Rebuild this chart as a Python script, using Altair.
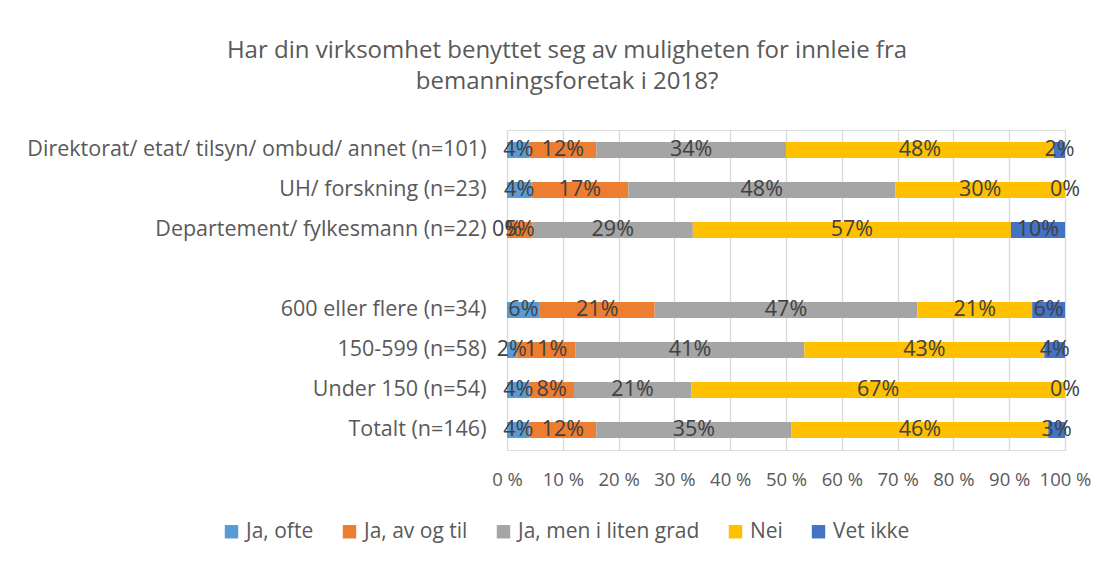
import altair as alt
import pandas as pd

categories = [
    "Direktorat/ etat/ tilsyn/ ombud/ annet (n=101)",
    "UH/ forskning (n=23)",
    "Departement/ fylkesmann (n=22)",
    " ",
    "600 eller flere (n=34)",
    "150-599 (n=58)",
    "Under 150 (n=54)",
    "Totalt (n=146)",
]
data_rows = [c for c in categories if c.strip()]

series = ["Ja, ofte", "Ja, av og til", "Ja, men i liten grad", "Nei", "Vet ikke"]
colors = ["#5B9BD5", "#ED7D31", "#A5A5A5", "#FFC000", "#4472C4"]

ja_ofte = [4, 4.35, 0, 5.88, 1.7, 4, 4]
ja_av_og_til = [12, 17.39, 4.6, 20.59, 10.6, 8, 12]
ja_liten_grad = [34, 47.83, 28.7, 47.06, 41.0, 21, 35]
nei = [48, 30.43, 57.0, 20.59, 43.0, 67, 46]
vet_ikke = [2, 0, 9.7, 5.88, 3.7, 0, 3]

x_ticks = [0, 10, 20, 30, 40, 50, 60, 70, 80, 90, 100]

records = []
for si, (s, vals) in enumerate(zip(series, [ja_ofte, ja_av_og_til, ja_liten_grad, nei, vet_ikke])):
    for cat, v in zip(data_rows, vals):
        records.append({"kategori": cat, "svar": s, "verdi": v, "rekke": si})
df = pd.DataFrame(records)

FONT = "Open Sans"

base = alt.Chart(df).transform_stack(
    stack="verdi", groupby=["kategori"], as_=["start", "slutt"],
    sort=[alt.SortField("rekke", order="ascending")],
).transform_calculate(
    midt="(datum.start + datum.slutt) / 2",
    etikett="format(datum.verdi, '.0f') + '%'",
)

y_enc = alt.Y("kategori:N", sort=categories,
              scale=alt.Scale(domain=categories),
              axis=alt.Axis(title=None, labelFontSize=21.5, labelColor="#595959",
                            labelFont=FONT, ticks=False, domain=False,
                            labelPadding=21, labelLimit=700))

bars = base.mark_bar(size=16).encode(
    x=alt.X("start:Q", scale=alt.Scale(domain=[0, 100], nice=False),
            axis=alt.Axis(title=None, values=x_ticks, labelExpr="datum.value + ' %'",
                          labelFontSize=18.5, labelColor="#595959", labelFont=FONT,
                          labelOverlap=False, labelFlush=False, labelBound=False,
                          grid=True, gridColor="#D9D9D9", gridWidth=1.3,
                          ticks=False, domain=False, labelPadding=20)),
    x2="slutt:Q",
    y=y_enc,
    color=alt.Color("svar:N", scale=alt.Scale(domain=series, range=colors),
                    legend=alt.Legend(title=None, orient="none", direction="horizontal",
                                      legendX=-286, legendY=391,
                                      symbolType="square", symbolSize=180,
                                      symbolStrokeWidth=0, labelLimit=400,
                                      labelFontSize=21, labelColor="#595959",
                                      labelFont=FONT, columnPadding=25,
                                      labelOffset=4)),
)

labels = base.mark_text(fontSize=21.5, color="#404040", font=FONT, baseline="middle").encode(
    x=alt.X("midt:Q"),
    y=alt.Y("kategori:N", sort=categories),
    text=alt.Text("etikett:N"),
    detail="svar:N",
)

chart = alt.layer(bars, labels).properties(
    width=558,
    height=320,
    padding={"left": 499, "top": 122, "right": 39, "bottom": 108},
    autosize=alt.AutoSizeParams(type="none"),
    title=alt.TitleParams(
        text=["Har din virksomhet benyttet seg av muligheten for innleie fra",
              "bemanningsforetak i 2018?"],
        anchor="middle", frame="group", dx=-219,
        fontSize=24, font=FONT, fontWeight="normal", color="#595959",
        lineHeight=31, offset=36,
    ),
).configure_view(stroke=None).configure(background="white")

chart.save("out.html", embed_options={"renderer": "svg", "actions": False})
